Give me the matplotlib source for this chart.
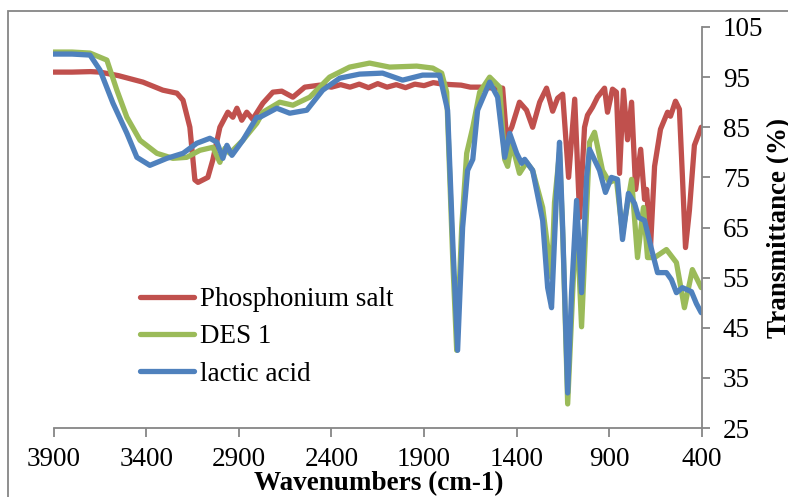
import numpy as np
import matplotlib
matplotlib.use("Agg")
from matplotlib import pyplot as plt
from matplotlib.patches import Rectangle

# --- spectra (wavenumber cm-1, transmittance %) ---
phos_wn = [3900, 3800, 3700, 3649, 3550, 3417, 3310, 3234, 3201, 3164, 3137, 3120, 3067, 3040,
           3002, 2959, 2932, 2910, 2884, 2857, 2825, 2770, 2716, 2668, 2608, 2544, 2463, 2400,
           2350, 2300, 2250, 2200, 2150, 2100, 2050, 2000, 1950, 1900, 1850, 1800, 1700, 1650,
           1600, 1520, 1476, 1455, 1427, 1385, 1347, 1314, 1276, 1239, 1206, 1179, 1152, 1120,
           1087, 1060, 1034, 1018, 991, 964, 926, 910, 883, 862, 845, 824, 802, 780, 758, 731,
           710, 699, 678, 656, 624, 586, 570, 543, 522, 505, 489, 468, 441, 404]
phos_t = [96.0, 96.0, 96.1, 96.0, 95.3, 94.0, 92.4, 91.8, 90.4, 85.0, 74.5, 74.0, 75.0, 78.5,
          85.0, 88.0, 87.0, 88.8, 86.4, 88.0, 86.6, 89.8, 92.0, 92.2, 91.0, 93.0, 93.4, 93.0,
          93.5, 93.0, 93.6, 92.9, 93.7, 93.0, 93.5, 92.9, 93.6, 93.3, 93.9, 93.6, 93.4, 93.0,
          93.0, 92.8, 92.8, 83.0, 85.0, 90.0, 88.4, 85.0, 90.0, 92.8, 88.2, 90.8, 91.6, 75.0,
          90.6, 67.0, 85.0, 87.4, 89.0, 91.0, 92.8, 88.0, 92.6, 92.0, 75.8, 92.4, 82.5, 90.0,
          72.6, 80.6, 70.6, 72.6, 61.0, 77.2, 84.6, 88.0, 87.2, 90.2, 88.6, 74.6, 61.0, 68.4,
          81.4, 85.0]

des_wn = [3900, 3800, 3703, 3612, 3558, 3504, 3433, 3342, 3256, 3181, 3110, 3040, 3002, 2975,
          2948, 2878, 2803, 2770, 2679, 2608, 2517, 2410, 2302, 2194, 2086, 1940, 1853, 1805,
          1778, 1745, 1724, 1697, 1670, 1637, 1600, 1546, 1492, 1465, 1449, 1427, 1385, 1347,
          1314, 1260, 1212, 1196, 1169, 1150, 1125, 1098, 1077, 1050, 1007, 980, 937, 899, 862,
          829, 780, 748, 716, 694, 656, 592, 538, 495, 452, 404]
des_t = [100.0, 100.0, 99.8, 98.4, 92.4, 87.0, 82.4, 79.8, 78.8, 79.0, 80.4, 81.0, 78.0, 80.8,
         79.8, 82.4, 85.8, 88.0, 90.0, 89.4, 91.0, 95.0, 97.0, 97.8, 97.0, 97.2, 96.8, 95.8,
         92.0, 58.4, 40.5, 65.0, 79.8, 85.0, 92.0, 95.0, 93.0, 78.6, 77.2, 81.8, 75.8, 78.0,
         76.4, 69.0, 55.0, 70.0, 80.0, 62.0, 29.8, 52.0, 68.0, 45.2, 82.0, 84.0, 76.4, 74.0,
         74.6, 63.8, 74.6, 59.0, 69.0, 59.0, 59.0, 60.6, 58.0, 49.0, 56.6, 53.0]

lac_wn = [3900, 3800, 3703, 3649, 3579, 3504, 3450, 3380, 3288, 3201, 3127, 3056, 3018, 2986,
          2964, 2937, 2878, 2803, 2786, 2695, 2625, 2533, 2447, 2355, 2248, 2124, 2016, 1908,
          1827, 1816, 1773, 1745, 1719, 1692, 1665, 1637, 1611, 1546, 1503, 1465, 1438, 1400,
          1373, 1357, 1314, 1260, 1233, 1212, 1185, 1169, 1152, 1125, 1104, 1077, 1050, 1023,
          1007, 953, 921, 889, 856, 829, 797, 764, 742, 710, 672, 640, 592, 565, 538, 506, 457,
          430, 404]
lac_t = [99.6, 99.6, 99.4, 96.4, 89.8, 83.8, 79.0, 77.4, 78.8, 79.8, 81.8, 82.8, 82.0, 78.8,
         81.4, 79.4, 82.4, 87.0, 87.0, 88.8, 87.8, 88.4, 92.4, 94.8, 95.6, 95.8, 94.4, 95.4,
         95.4, 95.4, 88.4, 62.0, 40.5, 65.0, 76.4, 78.6, 88.4, 94.0, 91.0, 79.0, 83.8, 79.8,
         77.8, 78.6, 76.4, 66.4, 53.0, 49.0, 71.8, 82.0, 65.0, 32.0, 52.0, 70.4, 52.0, 75.0,
         80.6, 76.4, 72.0, 75.0, 74.6, 62.6, 71.8, 69.8, 67.0, 66.4, 60.6, 56.0, 56.0, 54.6,
         52.0, 53.0, 52.2, 49.8, 48.0]

series_names = ["Phosphonium salt", "DES 1", "lactic acid"]
series_colors = ["#C0504D", "#9BBB59", "#4F81BD"]
x_ticks = [3900, 3400, 2900, 2400, 1900, 1400, 900, 400]
y_ticks = [25, 35, 45, 55, 65, 75, 85, 95, 105]

plt.rcParams['font.family'] = ['Liberation Serif', 'DejaVu Serif']
fs = 19.5

fig = plt.figure(figsize=(7.88, 4.97), dpi=100)
# excel-style chart area border, partly cut off by the image edge
fig.patches.append(Rectangle((8 / 788, -0.1), 1.2, 1.0 - 11 / 497 + 0.1, transform=fig.transFigure,
                             fill=False, edgecolor="#868686", lw=1.3))
ax = fig.add_axes([53.5 / 788, 1 - 428 / 497, (702 - 53.5) / 788, (428 - 27) / 497])

for wn, t, name, c in zip([phos_wn, des_wn, lac_wn], [phos_t, des_t, lac_t], series_names, series_colors):
    ax.plot(wn, t, color=c, lw=3.8, label=name, solid_joinstyle="round", solid_capstyle="round")

ax.set_xlim(3900, 400)
ax.set_ylim(25, 105)
ax.set_xticks(x_ticks)
ax.set_yticks(y_ticks)
ax.yaxis.tick_right()
ax.yaxis.set_label_position("right")
for s in ["left", "top"]:
    ax.spines[s].set_visible(False)
for s in ["bottom", "right"]:
    ax.spines[s].set_color("#868686")
    ax.spines[s].set_linewidth(1.3)
ax.tick_params(axis="both", colors="#868686", labelcolor="black", labelsize=fs, width=1.3)
ax.tick_params(axis="x", length=6.5, pad=7)
ax.tick_params(axis="y", length=6, pad=9)

ax.set_xlabel("Wavenumbers (cm-1)", fontsize=fs, fontweight="bold")
ax.set_ylabel("Transmittance (%)", fontsize=fs, fontweight="bold")
ax.xaxis.set_label_coords(0.502, -0.108)
ax.yaxis.set_label_coords(1.100, 0.5)

ax.legend(loc="upper left", bbox_to_anchor=(0.113, 0.385), frameon=False, fontsize=fs,
          handlelength=2.0, handletextpad=0.2, labelspacing=0.45, borderpad=0)

fig.savefig("out.png", dpi=100)
